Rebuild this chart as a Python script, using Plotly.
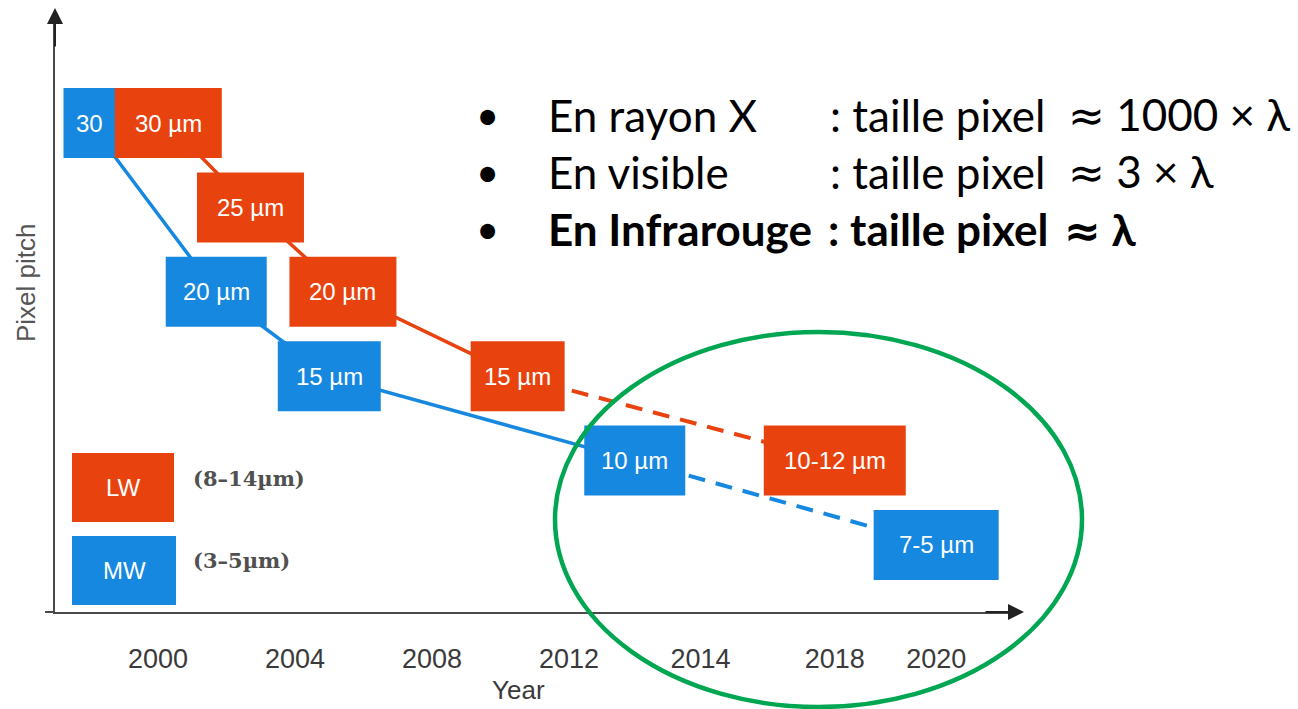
import numpy as np
import plotly.graph_objects as go

# ---------------- data ----------------
tick_years = [2000, 2004, 2008, 2012, 2014, 2018, 2020]

# LW (long wave) detector generations
lw_labels = ["30 µm", "25 µm", "20 µm", "15 µm", "10-12 µm"]
lw_years = [2000.3, 2002.7, 2005.4, 2010.5, 2018.0]
lw_pitch = [30, 25, 20, 15, 10]

# MW (mid wave) detector generations
mw_labels = ["30", "20 µm", "15 µm", "10 µm", "7-5 µm"]
mw_years = [1998.0, 2001.7, 2005.0, 2013.0, 2020.0]
mw_pitch = [30, 20, 15, 10, 5]

band_names = ["LW", "MW"]
band_ranges = ["(8–14µm)", "(3–5µm)"]

bullet_media = ["En rayon X", "En visible", "En Infrarouge"]
bullet_rules = [": taille pixel", ": taille pixel", ": taille pixel"]
bullet_factor = ["1000 × λ", "3 × λ", "λ"]

# ---------------- styling / layout ----------------
RED = "#E8430F"
BLUE = "#1688DF"
GREEN = "#00A651"
AXIS = "#4a4a4a"

W, H = 1298, 709
L, R, T, B = 55, 1020, 15, 612          # plot area in page pixels

# the year axis is drawn with uneven spacing between labelled years
tick_slots = [0, 1, 2, 3, 3.96, 4.94, 5.68]
FIRST_TICK_PX, SLOT_PX = 158, 137


def year_to_slot(year):
    ys, ss = tick_years, tick_slots
    if year < ys[0]:
        return ss[0] + (year - ys[0]) * (ss[1] - ss[0]) / (ys[1] - ys[0])
    if year > ys[-1]:
        return ss[-1] + (year - ys[-1]) * (ss[-1] - ss[-2]) / (ys[-1] - ys[-2])
    return float(np.interp(year, ys, ss))


def px(x):
    return (x - L) / (R - L)


def py(y):
    return (B - y) / (B - T)


x_range = [(L - FIRST_TICK_PX) / SLOT_PX, (R - FIRST_TICK_PX) / SLOT_PX]
y_range = [1.03, 36.40]

lw_w = [107, 107, 107, 94, 142]
mw_w = [52, 101, 103, 101, 125]
BOX_H = 70

lw_x = [year_to_slot(y) for y in lw_years]
mw_x = [year_to_slot(y) for y in mw_years]

fig = go.Figure()

# connecting lines: solid for past generations, dashed for the forecast
line_kw = dict(mode="lines", hoverinfo="skip", showlegend=False)
DASH = "17px,11px"
fig.add_trace(go.Scatter(x=lw_x[:4], y=lw_pitch[:4], line=dict(color=RED, width=3.5), **line_kw))
fig.add_trace(go.Scatter(x=lw_x[3:], y=lw_pitch[3:], line=dict(color=RED, width=4, dash=DASH), **line_kw))
fig.add_trace(go.Scatter(x=mw_x[:4], y=mw_pitch[:4], line=dict(color=BLUE, width=3.5), **line_kw))
fig.add_trace(go.Scatter(x=mw_x[3:], y=mw_pitch[3:], line=dict(color=BLUE, width=4, dash=DASH), **line_kw))

shapes = []
annotations = []

txt_font = dict(family="Liberation Sans, Arial, sans-serif", size=24, color="white")


def add_box(x, y, w, label, color):
    shapes.append(dict(type="rect", xref="x", yref="y", layer="above",
                       xsizemode="pixel", ysizemode="pixel",
                       xanchor=x, yanchor=y, x0=-w / 2, x1=w / 2,
                       y0=-BOX_H / 2, y1=BOX_H / 2,
                       fillcolor=color, line=dict(width=0)))
    annotations.append(dict(xref="x", yref="y", x=x, y=y, text=label,
                            showarrow=False, font=txt_font,
                            xanchor="center", yanchor="middle"))


for x, y, w, lab in zip(mw_x, mw_pitch, mw_w, mw_labels):
    add_box(x, y, w, lab, BLUE)
for x, y, w, lab in zip(lw_x, lw_pitch, lw_w, lw_labels):
    add_box(x, y, w, lab, RED)

# band key in the lower-left corner
key_boxes = [(72, 453, 174, 522, RED), (72, 536, 176, 605, BLUE)]
key_text_y = [478, 560]
for (x0, y0, x1, y1, col), name, rng, ty in zip(key_boxes, band_names, band_ranges, key_text_y):
    shapes.append(dict(type="rect", xref="paper", yref="paper", layer="above",
                       x0=px(x0), x1=px(x1), y0=py(y1), y1=py(y0),
                       fillcolor=col, line=dict(width=0)))
    annotations.append(dict(xref="paper", yref="paper", x=px((x0 + x1) / 2), y=py((y0 + y1) / 2),
                            text=name, showarrow=False, font=txt_font,
                            xanchor="center", yanchor="middle"))
    annotations.append(dict(xref="paper", yref="paper", x=px(191), y=py(ty),
                            text=rng, showarrow=False,
                            font=dict(family="DejaVu Serif", size=21, color="#505050", weight="bold"),
                            xanchor="left", yanchor="middle"))

# short stub of the year axis to the left of the pitch axis
shapes.append(dict(type="line", xref="paper", yref="paper", layer="above",
                   x0=px(45), x1=0, y0=0, y1=0, line=dict(color=AXIS, width=2)))

# highlight ellipse around the recent generations
shapes.append(dict(type="circle", xref="paper", yref="paper", layer="above",
                   x0=px(555), x1=px(1082), y0=py(707), y1=py(332),
                   line=dict(color=GREEN, width=4.5)))

# bullet list
line_y = [115, 172, 229]
rule_x = [828, 828, 826]
factor_x = [1066, 1066, 1062]
MATH = "<span style=\"font-family:'DejaVu Sans'\">≈</span>"
for i, (media, rule, fac, ly, rx, fx) in enumerate(
        zip(bullet_media, bullet_rules, bullet_factor, line_y, rule_x, factor_x)):
    bold = i == 2
    f = dict(family="Lato, sans-serif", size=44, color="black",
             weight="bold" if bold else "normal")
    annotations.append(dict(xref="paper", yref="paper", x=px(487), y=py(ly), text="•",
                            showarrow=False, font=dict(family="Lato, sans-serif", size=40, color="black"),
                            xanchor="center", yanchor="middle"))
    annotations.append(dict(xref="paper", yref="paper", x=px(546), y=py(ly), text=media,
                            showarrow=False, font=f, xanchor="left", yanchor="middle"))
    annotations.append(dict(xref="paper", yref="paper", x=px(rx), y=py(ly), text=rule,
                            showarrow=False, font=f, xanchor="left", yanchor="middle"))
    annotations.append(dict(xref="paper", yref="paper", x=px(fx), y=py(ly),
                            text=MATH + "\u00a0" + fac,
                            showarrow=False, font=f, xanchor="left", yanchor="middle"))

# axis titles
annotations.append(dict(xref="paper", yref="paper", x=px(518), y=py(690), text="Year",
                        showarrow=False, font=dict(family="Liberation Sans, Arial", size=26, color="#3a3a3a"),
                        xanchor="center", yanchor="middle"))
annotations.append(dict(xref="paper", yref="paper", x=px(26), y=py(283), text="Pixel pitch",
                        textangle=-90, showarrow=False,
                        font=dict(family="Liberation Sans, Arial", size=26, color="#555555"),
                        xanchor="center", yanchor="middle"))

# arrowheads on the axes
annotations.append(dict(xref="paper", yref="paper", x=0, y=py(8), ax=0, ay=40, text="",
                        showarrow=True, arrowhead=2, arrowsize=1.6, arrowwidth=2, arrowcolor="#222222"))
annotations.append(dict(xref="paper", yref="paper", x=px(1024), y=0, ax=-40, ay=0, text="",
                        showarrow=True, arrowhead=2, arrowsize=1.6, arrowwidth=2, arrowcolor="#222222"))

fig.update_layout(
    width=W, height=H,
    margin=dict(l=L, r=W - R, t=T, b=H - B, pad=0),
    paper_bgcolor="white", plot_bgcolor="white",
    showlegend=False,
    shapes=shapes, annotations=annotations,
    xaxis=dict(range=x_range, tickvals=tick_slots, ticktext=[str(y) for y in tick_years],
               showline=True, linecolor=AXIS, linewidth=2, ticks="", showgrid=False,
               zeroline=False, fixedrange=True, ticklabelstandoff=22,
               tickfont=dict(family="Liberation Sans, Arial", size=27, color="#3a3a3a")),
    yaxis=dict(range=y_range, showline=True, linecolor=AXIS, linewidth=2, ticks="",
               showticklabels=False, showgrid=False, zeroline=False, fixedrange=True),
)

fig.write_html("out.html")
